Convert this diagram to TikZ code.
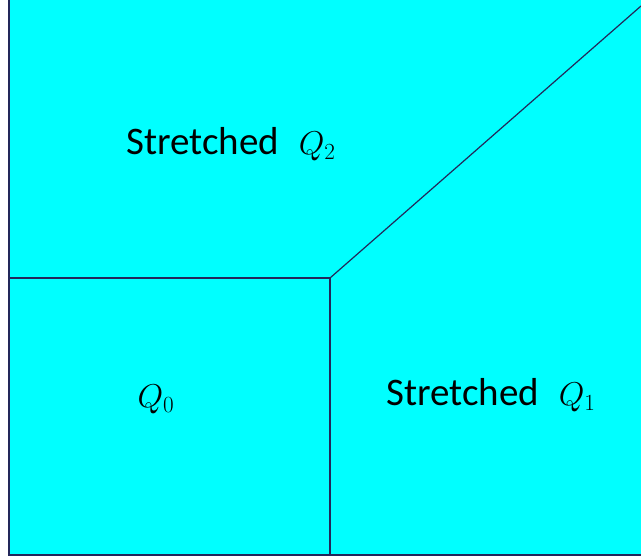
\documentclass[tikz,border=0pt]{standalone}
\usepackage{fix-cm}
\usepackage{fontspec}
\setmainfont{Carlito}
\newcommand{\qlab}[1]{{\fontsize{33}{40}\selectfont$Q_{#1}$}}
\begin{document}
\begin{tikzpicture}[x=1pt,y=1pt,
  edge/.style={draw={rgb,255:red,35;green,40;blue,90},line width=1.2pt},
  lab/.style={font=\fontsize{39}{44}\selectfont,inner sep=0pt,text=black}]
\useasboundingbox (0,0) rectangle (641,557);
\definecolor{fillc}{RGB}{0,255,255}
\fill[fillc] (9,2) rectangle (641,557);
\coordinate (tl) at (9,557);
\coordinate (bl) at (9,2);
\coordinate (br) at (641,2);
\coordinate (ml) at (9,279);
\coordinate (c) at (330,279);
\coordinate (cb) at (330,2);
\coordinate (tr) at (641,551);
\draw[edge] (tl) -- (bl) -- (br);
\draw[edge] (ml) -- (c) -- (cb);
\draw[edge] (c) -- (tr);
\node[lab] (q2) at (231,413) {Stretched\enspace\qlab{2}};
\node[lab] (q0) at (156,158) {\qlab{0}};
\node[lab] (q1) at (491,162) {Stretched\enspace\qlab{1}};
\end{tikzpicture}
\end{document}
